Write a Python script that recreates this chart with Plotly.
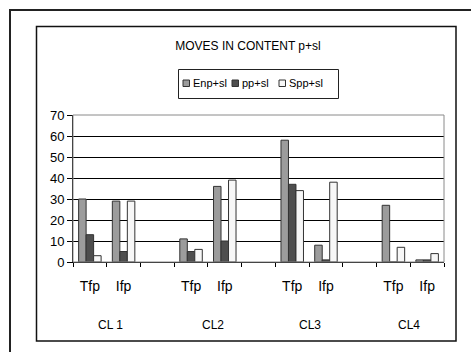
import plotly.graph_objects as go

# Category slots along the x axis: two phases per class, with an empty slot between classes
slot_ids = ["CL1_T", "CL1_I", "gap1", "CL2_T", "CL2_I", "gap2",
            "CL3_T", "CL3_I", "gap3", "CL4_T", "CL4_I"]
slot_labels = ["Tfp", "Ifp", "", "Tfp", "Ifp", "", "Tfp", "Ifp", "", "Tfp", "Ifp"]
class_labels = ["CL 1", "CL2", "CL3", "CL4"]

series_names = ["Enp+sl", "pp+sl", "Spp+sl"]
enp_sl = [30, 29, None, 11, 36, None, 58, 8, None, 27, 1]
pp_sl = [13, 5, None, 5, 10, None, 37, 1, None, 0, 1]
spp_sl = [3, 29, None, 6, 39, None, 34, 38, None, 7, 4]

colors = ["#9c9c9c", "#4e4e4e", "#f7f7f7"]
edge = "#333333"
FONT = "Liberation Sans, Arial, sans-serif"

W, H = 471, 352
ML, MR, MT, MB = 73, 27, 115, 90
PW, PH = W - ML - MR, H - MT - MB


def px2x(px):
    return (px - ML) / PW


def py2y(py):
    return (H - MB - py) / PH


fig = go.Figure()
for name, vals, col in zip(series_names, [enp_sl, pp_sl, spp_sl], colors):
    fig.add_trace(go.Bar(
        x=slot_ids, y=vals, name=name,
        marker=dict(color=col, line=dict(color=edge, width=1)),
        showlegend=False,
    ))

shapes = []
annotations = []

# outer and inner frames
shapes.append(dict(type="rect", xref="paper", yref="paper",
                   x0=px2x(10), x1=px2x(480), y0=py2y(10), y1=py2y(360),
                   line=dict(color="#222222", width=2), layer="below"))
shapes.append(dict(type="rect", xref="paper", yref="paper",
                   x0=px2x(36.5), x1=px2x(456), y0=py2y(26.5), y1=py2y(341),
                   line=dict(color="#111111", width=1.5), layer="below"))
# plot area border (grey)
shapes.append(dict(type="rect", xref="paper", yref="paper",
                   x0=0, x1=1, y0=0, y1=1,
                   line=dict(color="#8a8a8a", width=1), layer="above"))

# legend box with swatches
shapes.append(dict(type="rect", xref="paper", yref="paper",
                   x0=px2x(178.5), x1=px2x(338.5), y0=py2y(69.5), y1=py2y(98.5),
                   line=dict(color="#222222", width=1), fillcolor="white", layer="above"))
legend_swatch_x = [183, 232, 279]
legend_text_x = [191, 240, 287]
for name, col, sx, tx in zip(series_names, colors, legend_swatch_x, legend_text_x):
    shapes.append(dict(type="rect", xref="paper", yref="paper",
                       x0=px2x(sx), x1=px2x(sx + 6.5), y0=py2y(80), y1=py2y(86.5),
                       line=dict(color=edge, width=1), fillcolor=col, layer="above"))
    annotations.append(dict(text=name, xref="paper", yref="paper",
                            x=px2x(tx), y=py2y(83), xanchor="left", yanchor="middle",
                            showarrow=False, font=dict(family=FONT, size=11, color="black")))

# class labels below the phase labels
class_shift = [4, 5, 1, -1]
for g, (lab, sh) in enumerate(zip(class_labels, class_shift)):
    annotations.append(dict(text=lab, xref="x", yref="paper",
                            x=3 * g + 0.5, y=py2y(325), xshift=sh,
                            xanchor="center", yanchor="middle", showarrow=False,
                            font=dict(family=FONT, size=12, color="black")))

fig.update_layout(
    width=W, height=H,
    margin=dict(l=ML, r=MR, t=MT, b=MB),
    paper_bgcolor="white", plot_bgcolor="white",
    barmode="group", bargap=0.333, bargroupgap=0,
    title=dict(text="MOVES IN CONTENT p+sl", x=248 / W, y=1 - 46 / H,
               xanchor="center", yanchor="middle",
               font=dict(family=FONT, size=12, color="black")),
    font=dict(family=FONT, color="black"),
    shapes=shapes, annotations=annotations,
    showlegend=False,
)
fig.update_xaxes(
    type="category", categoryorder="array", categoryarray=slot_ids,
    tickmode="array", tickvals=slot_ids, ticktext=slot_labels,
    tickson="boundaries", ticks="outside", ticklen=4, tickcolor="black",
    showline=True, linecolor="black", linewidth=1,
    showgrid=False, ticklabelstandoff=11,
    tickfont=dict(family=FONT, size=14, color="black"),
    range=[-0.5, 10.5],
)
fig.update_yaxes(
    range=[0, 70], dtick=10, tick0=0,
    ticks="outside", ticklen=5, tickcolor="black",
    showline=True, linecolor="black", linewidth=1,
    showgrid=True, gridcolor="black", gridwidth=1,
    zeroline=False,
    tickfont=dict(family=FONT, size=13, color="black"),
)

fig.write_html("out.html")
